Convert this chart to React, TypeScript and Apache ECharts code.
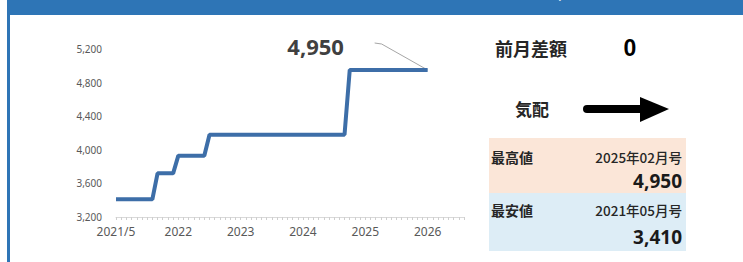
import React, { useEffect, useRef } from "react";
import * as echarts from "echarts";

// Monthly categories 2021/5 .. 2026/12
const startYear = 2021;
const startMonth = 5;
const monthCount = 68;
const categories: string[] = [];
for (let i = 0; i < monthCount; i++) {
  const m0 = startMonth - 1 + i;
  categories.push(`${startYear + Math.floor(m0 / 12)}/${(m0 % 12) + 1}`);
}

// Labels shown on the x axis (by category index)
const xTickLabels: Record<number, string> = {
  0: "2021/5",
  12: "2022",
  24: "2023",
  36: "2024",
  48: "2025",
  60: "2026",
};

// Monthly price values 2021/5 .. 2026/5
const prices: number[] = [
  3410, 3410, 3410, 3410, 3410, 3410, 3410, 3410,
  3720, 3720, 3720, 3720,
  3930, 3930, 3930, 3930, 3930, 3930,
  4180, 4180, 4180, 4180, 4180, 4180, 4180, 4180, 4180, 4180,
  4180, 4180, 4180, 4180, 4180, 4180, 4180, 4180, 4180, 4180,
  4180, 4180, 4180, 4180, 4180, 4180, 4180,
  4950, 4950, 4950, 4950, 4950, 4950, 4950, 4950,
  4950, 4950, 4950, 4950, 4950, 4950, 4950, 4950,
];

const yMin = 3200;
const yMax = 5200;
const yStep = 400;

const monthDiff = "0";
const highLabel = "最高値";
const highMonth = "2025年02月号";
const highValue = "4,950";
const lowLabel = "最安値";
const lowMonth = "2021年05月号";
const lowValue = "3,410";

const JP = '"Noto Sans CJK JP", sans-serif';
const LAT = '"Noto Sans", "Open Sans", sans-serif';

export default function App() {
  const ref = useRef<HTMLDivElement>(null);
  useEffect(() => {
    if (!ref.current) return;
    const chart = echarts.init(ref.current, undefined, { renderer: "svg" });
    chart.setOption({
      animation: false,
      backgroundColor: "#ffffff",
      grid: { left: 116, right: 279, top: 49, bottom: 45 },
      xAxis: {
        type: "category",
        data: categories,
        boundaryGap: false,
        axisLine: { show: true, lineStyle: { color: "#d9d9d9", width: 1 } },
        axisTick: { show: true, interval: 0, length: 3, lineStyle: { color: "#cfcfcf" } },
        axisLabel: {
          interval: (i: number) => xTickLabels[i] !== undefined,
          formatter: (_v: string, i: number) => xTickLabels[i] ?? "",
          color: "#595959",
          fontSize: 12,
          fontFamily: LAT,
          margin: 8,
        },
        splitLine: { show: false },
      },
      yAxis: {
        type: "value",
        min: yMin,
        max: yMax,
        interval: yStep,
        axisLine: { show: false },
        axisTick: { show: false },
        splitLine: { show: false },
        axisLabel: {
          color: "#595959",
          fontSize: 10,
          fontFamily: LAT,
          margin: 14,
          formatter: (v: number) => v.toLocaleString("en-US"),
        },
      },
      series: [
        {
          type: "line",
          data: prices,
          symbol: "none",
          lineStyle: { color: "#3D6EA8", width: 4 },
          z: 3,
        },
      ],
    });

    const lastIdx = prices.length - 1;
    const p = chart.convertToPixel({ seriesIndex: 0 }, [lastIdx, prices[lastIdx]]) as number[];
    const px = p[0];
    const py = p[1];

    chart.setOption({
      graphic: [
        { type: "rect", shape: { x: 7, y: 0, width: 736, height: 15 }, style: { fill: "#2E75B6" } },
        { type: "rect", shape: { x: 7, y: 0, width: 3, height: 262 }, style: { fill: "#2E75B6" } },
        {
          type: "text",
          x: 597,
          y: -1,
          style: {
            text: "販売価格の推移（円/月）",
            fill: "#ffffff",
            font: `bold 16px ${JP}`,
            textAlign: "right",
            textVerticalAlign: "bottom",
          },
        },
        // annotation for latest value
        {
          type: "text",
          x: px - 112,
          y: py - 24,
          style: {
            text: prices[lastIdx].toLocaleString("en-US"),
            fill: "#404040",
            font: `bold 22px ${LAT}`,
            textAlign: "center",
            textVerticalAlign: "middle",
          },
        },
        {
          type: "polyline",
          shape: { points: [[px - 53, py - 27], [px - 46, py - 26], [px, py]] },
          style: { stroke: "#a6a6a6", lineWidth: 1, fill: "none" },
        },
        // right panel
        {
          type: "text",
          x: 531,
          y: 48,
          style: { text: "前月差額", fill: "#262626", font: `bold 18px ${JP}`, textAlign: "center", textVerticalAlign: "middle" },
        },
        {
          type: "text",
          x: 630,
          y: 48,
          style: { text: monthDiff, fill: "#000000", font: `bold 23px "Liberation Sans", Arial, sans-serif`, textAlign: "center", textVerticalAlign: "middle" },
        },
        {
          type: "text",
          x: 532,
          y: 108,
          style: { text: "気配", fill: "#262626", font: `bold 17px ${JP}`, textAlign: "center", textVerticalAlign: "middle" },
        },
        { type: "rect", shape: { x: 583, y: 105, width: 60, height: 8, r: [4, 0, 0, 4] }, style: { fill: "#000000" } },
        { type: "polygon", shape: { points: [[640, 97], [669, 109], [640, 122]] }, style: { fill: "#000000" } },
        { type: "rect", shape: { x: 489, y: 138, width: 197, height: 55 }, style: { fill: "#FBE6D8" } },
        { type: "rect", shape: { x: 489, y: 193, width: 197, height: 58 }, style: { fill: "#DDEDF6" } },
        {
          type: "text",
          x: 491,
          y: 157,
          style: { text: highLabel, fill: "#262626", font: `bold 14px ${JP}`, textAlign: "left", textVerticalAlign: "middle" },
        },
        {
          type: "text",
          x: 682,
          y: 157,
          style: { text: highMonth, fill: "#262626", font: `500 13.5px ${JP}`, textAlign: "right", textVerticalAlign: "middle" },
        },
        {
          type: "text",
          x: 682,
          y: 181,
          style: { text: highValue, fill: "#1a1a1a", font: `bold 19px ${LAT}`, textAlign: "right", textVerticalAlign: "middle" },
        },
        {
          type: "text",
          x: 491,
          y: 210,
          style: { text: lowLabel, fill: "#262626", font: `bold 14px ${JP}`, textAlign: "left", textVerticalAlign: "middle" },
        },
        {
          type: "text",
          x: 682,
          y: 210,
          style: { text: lowMonth, fill: "#262626", font: `500 13.5px ${JP}`, textAlign: "right", textVerticalAlign: "middle" },
        },
        {
          type: "text",
          x: 682,
          y: 237,
          style: { text: lowValue, fill: "#1a1a1a", font: `bold 19px ${LAT}`, textAlign: "right", textVerticalAlign: "middle" },
        },
      ],
    });

    return () => chart.dispose();
  }, []);
  return (
    <div
      ref={ref}
      style={{ position: "fixed", left: 0, top: 0, width: 743, height: 262 }}
    />
  );
}
